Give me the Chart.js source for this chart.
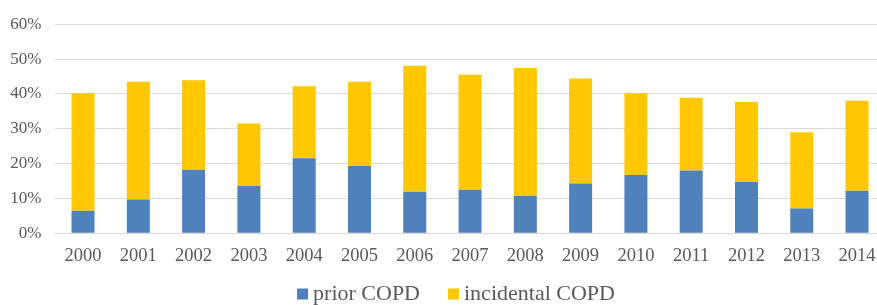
<!DOCTYPE html>
<html>
<head>
<meta charset="utf-8">
<script src="https://cdn.jsdelivr.net/npm/chart.js@4/dist/chart.umd.min.js"></script>
<style>
  html, body { margin: 0; padding: 0; background: #fff; overflow: hidden; }
  canvas { display: block; }
</style>
</head>
<body>
<canvas id="chart" width="912" height="305"></canvas>
<script>
const years = ['2000', '2001', '2002', '2003', '2004', '2005', '2006', '2007',
  '2008', '2009', '2010', '2011', '2012', '2013', '2014'];
const priorCOPD = [6.5, 9.7, 18.2, 13.6, 21.5, 19.3, 11.9, 12.5, 10.8, 14.3, 16.7, 18.0, 14.7, 7.1, 12.2];
const incidentalCOPD = [33.7, 33.8, 25.7, 17.9, 20.7, 24.2, 36.2, 33.0, 36.6, 30.1, 23.5, 20.9, 23.0, 21.9, 25.8];
const yTicks = [0, 10, 20, 30, 40, 50, 60];

const textColor = '#595959';
const serif = '"Liberation Serif", "Times New Roman", serif';

// legend drawn by hand so the box/text gap matches the Excel look
const bottomLegend = {
  id: 'bottomLegend',
  afterDraw(chart) {
    const ctx = chart.ctx;
    const box = 11, gap = 5, spacing = 28;
    ctx.save();
    ctx.font = '22px ' + serif;
    ctx.textBaseline = 'middle';
    const items = chart.data.datasets.map(ds => ({
      label: ds.label,
      color: ds.backgroundColor,
      w: box + gap + ctx.measureText(ds.label).width
    }));
    const total = items.reduce((s, it) => s + it.w, 0) + spacing * (items.length - 1);
    let x = chart.width / 2 - total / 2;
    const y = 294;
    items.forEach(it => {
      ctx.fillStyle = it.color;
      ctx.fillRect(x, y - box / 2, box, box);
      ctx.fillStyle = textColor;
      ctx.fillText(it.label, x + box + gap, y);
      x += it.w + spacing;
    });
    ctx.restore();
  }
};

new Chart(document.getElementById('chart'), {
  type: 'bar',
  data: {
    labels: years,
    datasets: [
      {
        label: 'prior COPD',
        data: priorCOPD,
        backgroundColor: '#4f81bd',
        barPercentage: 0.416,
        categoryPercentage: 1
      },
      {
        label: 'incidental COPD',
        data: incidentalCOPD,
        backgroundColor: '#ffc800',
        barPercentage: 0.416,
        categoryPercentage: 1
      }
    ]
  },
  options: {
    responsive: false,
    animation: false,
    devicePixelRatio: 1,
    layout: { padding: { left: 0, right: 27.3, top: 21, bottom: 30 } },
    plugins: {
      legend: { display: false },
      tooltip: { enabled: false }
    },
    scales: {
      x: {
        stacked: true,
        grid: { display: false },
        border: { display: false },
        ticks: {
          color: textColor,
          font: { family: serif, size: 18.5 },
          padding: 4,
          maxRotation: 0,
          autoSkip: false
        },
        afterFit(scale) { scale.height = 41.7; }
      },
      y: {
        stacked: true,
        min: 0,
        max: 60,
        afterBuildTicks(scale) { scale.ticks = yTicks.map(v => ({ value: v })); },
        grid: { color: '#d9d9d9', lineWidth: 1, drawTicks: false },
        border: { display: false },
        ticks: {
          color: textColor,
          font: { family: serif, size: 17 },
          padding: 14,
          callback: v => v + '%'
        },
        afterFit(scale) { scale.width = 55.4; }
      }
    }
  },
  plugins: [bottomLegend]
});
</script>
</body>
</html>
